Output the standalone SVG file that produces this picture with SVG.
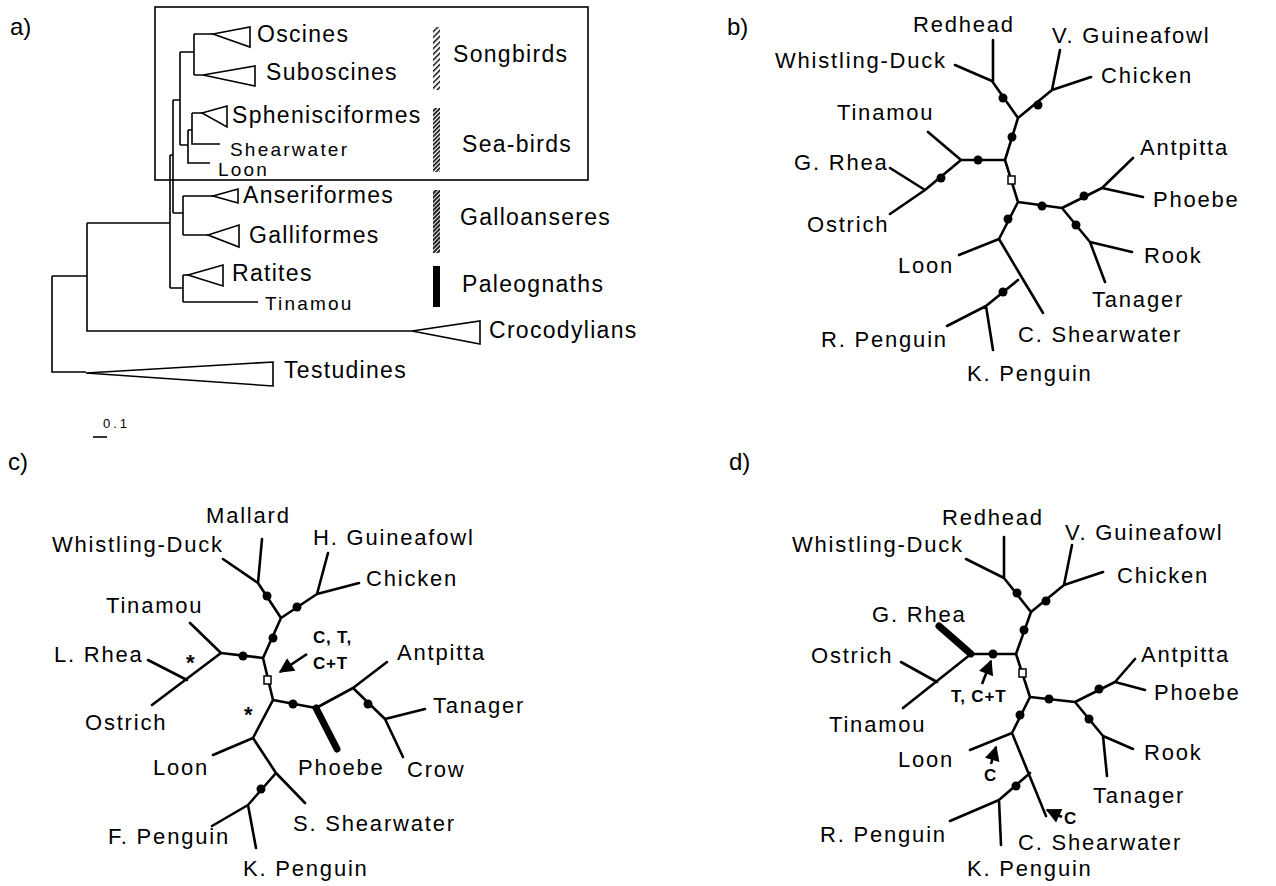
<svg xmlns="http://www.w3.org/2000/svg" width="1276" height="886" viewBox="0 0 1276 886">
<style>
text{font-family:"Liberation Sans",Arial,Helvetica,sans-serif;fill:#000}
.pl{font-size:24px}
.ta{font-size:23px;letter-spacing:1.3px}
.ts{font-size:19px;letter-spacing:2.2px}
.tb{font-size:22px;letter-spacing:1.8px}
.bd{font-size:17px;font-weight:bold;letter-spacing:0.8px}
.ast{font-size:22px;font-weight:bold}
.ta-line{fill:none;stroke:#000;stroke-width:1.6}
.tri{fill:#fff;stroke:#000;stroke-width:1.6;stroke-linejoin:miter}
.br{fill:none;stroke:#000;stroke-width:2.6;stroke-linecap:round;stroke-linejoin:round}
.thick{stroke-width:7}
.dot{fill:#000}
.sq{fill:#fff;stroke:#000;stroke-width:1.5}
.arr{fill:none;stroke:#000;stroke-width:2.6}
</style>
<defs>
<pattern id="h1" width="4" height="4" patternUnits="userSpaceOnUse" patternTransform="rotate(45)"><rect width="4" height="4" fill="#fff"/><rect width="1.4" height="4" fill="#000"/></pattern>
<pattern id="h2" width="3" height="3" patternUnits="userSpaceOnUse" patternTransform="rotate(45)"><rect width="3" height="3" fill="#fff"/><rect width="1.6" height="3" fill="#000"/></pattern>
<pattern id="h3" width="3" height="3" patternUnits="userSpaceOnUse" patternTransform="rotate(45)"><rect width="3" height="3" fill="#222"/><rect width="0.9" height="3" fill="#fff"/></pattern>
<marker id="ah" viewBox="0 0 10 10" refX="9" refY="5" markerWidth="18" markerHeight="15" markerUnits="userSpaceOnUse" orient="auto"><path d="M0,0 L10,5 L0,10 z" fill="#000"/></marker>
</defs>
<rect width="1276" height="886" fill="#fff"/>

<!-- ============ PANEL A ============ -->
<g id="panel-a">
<text class="pl" x="10" y="35">a)</text>
<rect x="155" y="7" width="433" height="173" fill="none" stroke="#000" stroke-width="1.6"/>
<g id="a-connectors">
<path class="ta-line" d="M194,34 H213 M194,34 V75 M194,75 H203 M180,52 H194 M180,52 V145 M192,113 H202 M192,113 V144 H220 M188,130 H192 M188,130 V163 H210 M180,145 H188 M173,100 H180 M173,100 V213 M170,155 H173 M170,155 V288 M173,213 H183 M183,196 V235 M183,196 H213 M183,235 H208 M170,288 H183 M183,275 V302 M183,275 H188 M183,302 H258 M87,223 H170 M87,223 V331 H412 M52,276 H87 M52,276 V372 H86"/>
<path class="ta-line" d="M93,437 H107"/>
</g>
<g id="a-oscines"><polygon class="tri" points="213,34 250,27 250,47"/><text class="ta" x="257" y="42">Oscines</text></g>
<g id="a-suboscines"><polygon class="tri" points="203,75 255,66 255,86"/><text class="ta" x="266" y="80">Suboscines</text></g>
<g id="a-sphenisciformes"><polygon class="tri" points="202,113 227,106 227,127"/><text class="ta" x="232" y="123">Sphenisciformes</text></g>
<g id="a-shearwater"><text class="ts" x="230" y="156">Shearwater</text></g>
<g id="a-loon"><text class="ts" x="218" y="176">Loon</text></g>
<g id="a-anseriformes"><polygon class="tri" points="213,196 238,189 238,203"/><text class="ta" x="243" y="203">Anseriformes</text></g>
<g id="a-galliformes"><polygon class="tri" points="208,235 239,225 239,247"/><text class="ta" x="249" y="243">Galliformes</text></g>
<g id="a-ratites"><polygon class="tri" points="188,275 223,265 223,286"/><text class="ta" x="232" y="281">Ratites</text></g>
<g id="a-tinamou"><text class="ts" x="265" y="310">Tinamou</text></g>
<g id="a-crocodylians"><polygon class="tri" points="412,331 480,321 480,344"/><text class="ta" x="489" y="338">Crocodylians</text></g>
<g id="a-testudines"><polygon class="tri" points="86,373 273,362 273,386"/><text class="ta" x="284" y="378">Testudines</text></g>
<g id="a-songbirds"><rect x="433" y="27" width="7" height="63" fill="url(#h1)"/><text class="ta" x="453" y="62">Songbirds</text></g>
<g id="a-seabirds"><rect x="433" y="108" width="7" height="64" fill="url(#h2)"/><text class="ta" x="462" y="152">Sea-birds</text></g>
<g id="a-galloanseres"><rect x="433" y="190" width="7" height="63" fill="url(#h3)"/><text class="ta" x="460" y="225">Galloanseres</text></g>
<g id="a-paleognaths"><rect x="433" y="266" width="7" height="41" fill="#000"/><text class="ta" x="462" y="292">Paleognaths</text></g>
<g id="a-scale"><text x="103" y="428" font-size="13" letter-spacing="3">0.1</text></g>
</g>

<!-- ============ PANEL B ============ -->
<g id="panel-b">
<text class="pl" x="727" y="35">b)</text>
<g id="b-connectors">
<path class="br" d="M955,65 L992,81 M993,40 L993,81 M992,81 L1018,118 L1052,90 L1060,50 M1052,90 L1091,77 M1018,118 L1005,160 L961,160 L928,132 M961,160 L925,190 L890,168 M925,190 L890,214 M1005,160 L1018,202 L1062,208 L1102,188 L1133,158 M1102,188 L1143,197 M1062,208 L1090,242 L1132,252 M1090,242 L1105,282 M1018,202 L999,239 L959,255 M999,239 L1043,313 M1018,280 L986,306 L947,326 M986,306 L993,350"/>
<g class="dot"><circle cx="1003" cy="98" r="4.5"/><circle cx="1038" cy="105" r="4.5"/><circle cx="1012" cy="137" r="4.5"/><circle cx="978" cy="160" r="4.5"/><circle cx="941" cy="178" r="4.5"/><circle cx="1042" cy="206" r="4.5"/><circle cx="1084" cy="196" r="4.5"/><circle cx="1076" cy="225" r="4.5"/><circle cx="1008" cy="219" r="4.5"/><circle cx="1003" cy="292" r="4.5"/></g>
<rect class="sq" x="1008" y="176" width="7" height="8"/>
</g>
<g id="b-redhead"><text class="tb" x="913" y="32">Redhead</text></g>
<g id="b-whistling-duck"><text class="tb" x="775" y="68">Whistling-Duck</text></g>
<g id="b-v-guineafowl"><text class="tb" x="1052" y="43">V. Guineafowl</text></g>
<g id="b-chicken"><text class="tb" x="1101" y="83">Chicken</text></g>
<g id="b-tinamou"><text class="tb" x="837" y="120">Tinamou</text></g>
<g id="b-g-rhea"><text class="tb" x="794" y="170">G. Rhea</text></g>
<g id="b-ostrich"><text class="tb" x="807" y="232">Ostrich</text></g>
<g id="b-antpitta"><text class="tb" x="1140" y="155">Antpitta</text></g>
<g id="b-phoebe"><text class="tb" x="1153" y="207">Phoebe</text></g>
<g id="b-rook"><text class="tb" x="1144" y="263">Rook</text></g>
<g id="b-tanager"><text class="tb" x="1092" y="307">Tanager</text></g>
<g id="b-loon"><text class="tb" x="898" y="273">Loon</text></g>
<g id="b-c-shearwater"><text class="tb" x="1018" y="342">C. Shearwater</text></g>
<g id="b-r-penguin"><text class="tb" x="821" y="347">R. Penguin</text></g>
<g id="b-k-penguin"><text class="tb" x="967" y="381">K. Penguin</text></g>
</g>

<!-- ============ PANEL C ============ -->
<g id="panel-c">
<text class="pl" x="8" y="470">c)</text>
<g id="c-connectors">
<path class="br" d="M223,559 L258,583 M262,539 L258,583 L281,618 L317,594 L328,553 M317,594 L359,583 M281,618 L263,658 L221,653 L190,623 M221,653 L152,705 M187,680 L148,660 M263,658 L273,700 L316,708 L353,688 L387,662 M353,688 L385,719 L425,709 M385,719 L403,757 M273,700 L253,738 L213,755 M253,738 L276,773 L305,803 M276,773 L248,805 L212,826 M248,805 L256,848"/>
<path class="br thick" d="M316,708 L337,749" stroke-linecap="butt"/>
<g class="dot"><circle cx="267" cy="596" r="4.5"/><circle cx="297" cy="607" r="4.5"/><circle cx="273" cy="638" r="4.5"/><circle cx="243" cy="656" r="4.5"/><circle cx="293" cy="704" r="4.5"/><circle cx="368" cy="704" r="4.5"/><circle cx="261" cy="789" r="4.5"/></g>
<rect class="sq" x="264" y="676" width="7" height="8"/>
<line class="arr" x1="307" y1="654" x2="280" y2="672" marker-end="url(#ah)"/>
</g>
<g id="c-annotation"><text class="bd" x="313" y="643">C, T,</text><text class="bd" x="313" y="669">C+T</text></g>
<g id="c-asterisks"><text class="ast" x="186" y="670">*</text><text class="ast" x="244" y="722">*</text></g>
<g id="c-mallard"><text class="tb" x="206" y="523">Mallard</text></g>
<g id="c-whistling-duck"><text class="tb" x="52" y="552">Whistling-Duck</text></g>
<g id="c-h-guineafowl"><text class="tb" x="313" y="545">H. Guineafowl</text></g>
<g id="c-chicken"><text class="tb" x="366" y="586">Chicken</text></g>
<g id="c-tinamou"><text class="tb" x="106" y="613">Tinamou</text></g>
<g id="c-l-rhea"><text class="tb" x="54" y="662">L. Rhea</text></g>
<g id="c-ostrich"><text class="tb" x="85" y="730">Ostrich</text></g>
<g id="c-antpitta"><text class="tb" x="397" y="660">Antpitta</text></g>
<g id="c-tanager"><text class="tb" x="433" y="713">Tanager</text></g>
<g id="c-crow"><text class="tb" x="407" y="777">Crow</text></g>
<g id="c-phoebe"><text class="tb" x="298" y="775">Phoebe</text></g>
<g id="c-loon"><text class="tb" x="153" y="775">Loon</text></g>
<g id="c-s-shearwater"><text class="tb" x="293" y="831">S. Shearwater</text></g>
<g id="c-f-penguin"><text class="tb" x="108" y="844">F. Penguin</text></g>
<g id="c-k-penguin"><text class="tb" x="243" y="876">K. Penguin</text></g>
</g>

<!-- ============ PANEL D ============ -->
<g id="panel-d">
<text class="pl" x="729" y="470">d)</text>
<g id="d-connectors">
<path class="br" d="M966,559 L1004,578 M1004,537 L1004,578 L1031,612 L1064,585 L1072,545 M1064,585 L1103,572 M1031,612 L1016,654 L971,654 L903,708 M937,682 L901,662 M1016,654 L1030,697 L1075,702 L1115,682 L1135,659 M1115,682 L1145,690 M1075,702 L1103,736 L1133,749 M1103,736 L1107,776 M1030,697 L1012,733 L970,750 M1012,733 L1046,816 M1030,773 L999,800 L950,821 M999,800 L1001,845"/>
<path class="br thick" d="M971,654 L939,626" stroke-linecap="butt"/>
<g class="dot"><circle cx="1017" cy="593" r="4.5"/><circle cx="1046" cy="601" r="4.5"/><circle cx="1024" cy="630" r="4.5"/><circle cx="993" cy="654" r="4.5"/><circle cx="1049" cy="699" r="4.5"/><circle cx="1099" cy="689" r="4.5"/><circle cx="1089" cy="719" r="4.5"/><circle cx="1020" cy="715" r="4.5"/><circle cx="1016" cy="786" r="4.5"/></g>
<rect class="sq" x="1019" y="669" width="7" height="8"/>
<line class="arr" x1="982" y1="684" x2="991" y2="661" marker-end="url(#ah)"/>
<line class="arr" x1="991" y1="764" x2="996" y2="747" marker-end="url(#ah)"/>
<line class="arr" x1="1062" y1="817" x2="1047" y2="810" marker-end="url(#ah)"/>
</g>
<g id="d-annotation"><text class="bd" x="951" y="702">T, C+T</text><text class="bd" x="984" y="781">C</text><text class="bd" x="1064" y="824">C</text></g>
<g id="d-redhead"><text class="tb" x="942" y="525">Redhead</text></g>
<g id="d-whistling-duck"><text class="tb" x="792" y="552">Whistling-Duck</text></g>
<g id="d-v-guineafowl"><text class="tb" x="1065" y="540">V. Guineafowl</text></g>
<g id="d-chicken"><text class="tb" x="1117" y="583">Chicken</text></g>
<g id="d-g-rhea"><text class="tb" x="872" y="622">G. Rhea</text></g>
<g id="d-ostrich"><text class="tb" x="811" y="663">Ostrich</text></g>
<g id="d-tinamou"><text class="tb" x="829" y="732">Tinamou</text></g>
<g id="d-antpitta"><text class="tb" x="1141" y="662">Antpitta</text></g>
<g id="d-phoebe"><text class="tb" x="1154" y="700">Phoebe</text></g>
<g id="d-rook"><text class="tb" x="1144" y="760">Rook</text></g>
<g id="d-tanager"><text class="tb" x="1093" y="803">Tanager</text></g>
<g id="d-loon"><text class="tb" x="898" y="767">Loon</text></g>
<g id="d-c-shearwater"><text class="tb" x="1018" y="850">C. Shearwater</text></g>
<g id="d-r-penguin"><text class="tb" x="820" y="842">R. Penguin</text></g>
<g id="d-k-penguin"><text class="tb" x="967" y="876">K. Penguin</text></g>
</g>
</svg>
